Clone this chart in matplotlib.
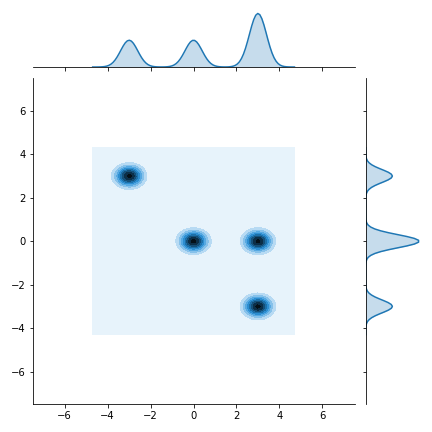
import numpy as np
import matplotlib
matplotlib.use("Agg")
import matplotlib.pyplot as plt
import matplotlib.colors as mcolors
import colorsys

# ---- data ----
cluster_x = [-3.0, 0.0, 3.0, 3.0]       # cluster centres, x
cluster_y = [3.0, 0.0, 0.0, -3.0]       # cluster centres, y
cluster_w = [1.0, 1.0, 1.0, 1.0]        # relative weights
bw_x = 0.4                              # kernel bandwidth in x
bw_y = 0.3                              # kernel bandwidth in y
support_x = (-4.7, 4.7)                 # KDE support (data range + cut)
support_y = (-4.3, 4.3)
axis_lim = (-7.5, 7.5)
tick_vals = [-6, -4, -2, 0, 2, 4, 6]
gridsize = 100
n_levels = 10

base_color = "#1f77b4"

# colormap like old seaborn jointplot: lightness 1 -> 0 through the base colour
r, g, b = mcolors.to_rgb(base_color)
h, l, s = colorsys.rgb_to_hls(r, g, b)
cols = [colorsys.hls_to_rgb(h, lv, s) for lv in np.linspace(1, 0, 12)]
cmap = mcolors.LinearSegmentedColormap.from_list("blend", cols)

cx = np.array(cluster_x)
cy = np.array(cluster_y)
cw = np.array(cluster_w) / np.sum(cluster_w)

xs = np.linspace(*support_x, gridsize)
ys = np.linspace(*support_y, gridsize)
XX, YY = np.meshgrid(xs, ys)


def gauss(u, m, s):
    return np.exp(-0.5 * ((u - m) / s) ** 2) / (s * np.sqrt(2 * np.pi))


Z = np.zeros_like(XX)
for mx, my, w in zip(cx, cy, cw):
    Z += w * gauss(XX, mx, bw_x) * gauss(YY, my, bw_y)

dens_x = np.zeros_like(xs)
for mx, w in zip(cx, cw):
    dens_x += w * gauss(xs, mx, bw_x)
dens_y = np.zeros_like(ys)
for my, w in zip(cy, cw):
    dens_y += w * gauss(ys, my, bw_y)

# ---- figure / layout like seaborn JointGrid ----
fig = plt.figure(figsize=(6, 6), dpi=72)
gs = plt.GridSpec(6, 6)
ax_joint = fig.add_subplot(gs[1:, :-1])
ax_mx = fig.add_subplot(gs[0, :-1], sharex=ax_joint)
ax_my = fig.add_subplot(gs[1:, -1], sharey=ax_joint)

ax_joint.contourf(XX, YY, Z, n_levels, cmap=cmap)
ax_joint.set_xlim(*axis_lim)
ax_joint.set_ylim(*axis_lim)
ax_joint.set_xticks(tick_vals)
ax_joint.set_yticks(tick_vals)

ax_mx.fill_between(xs, 0, dens_x, color=base_color, alpha=0.25, lw=0)
ax_mx.plot(xs, dens_x, color=base_color, lw=1.5)
ax_mx.set_ylim(0, dens_x.max() * 1.05)

ax_my.fill_betweenx(ys, 0, dens_y, color=base_color, alpha=0.25, lw=0)
ax_my.plot(dens_y, ys, color=base_color, lw=1.5)
ax_my.set_xlim(0, dens_y.max() * 1.05)

for ax in (ax_joint, ax_mx, ax_my):
    ax.spines["top"].set_visible(False)
    ax.spines["right"].set_visible(False)
ax_mx.spines["left"].set_visible(False)
ax_my.spines["bottom"].set_visible(False)

plt.setp(ax_mx.get_xticklabels(), visible=False)
plt.setp(ax_my.get_yticklabels(), visible=False)
ax_mx.tick_params(axis="y", left=False, labelleft=False)
ax_my.tick_params(axis="x", bottom=False, labelbottom=False)

fig.tight_layout()
fig.subplots_adjust(hspace=0.2, wspace=0.2)
fig.savefig("out.png", dpi=72)
